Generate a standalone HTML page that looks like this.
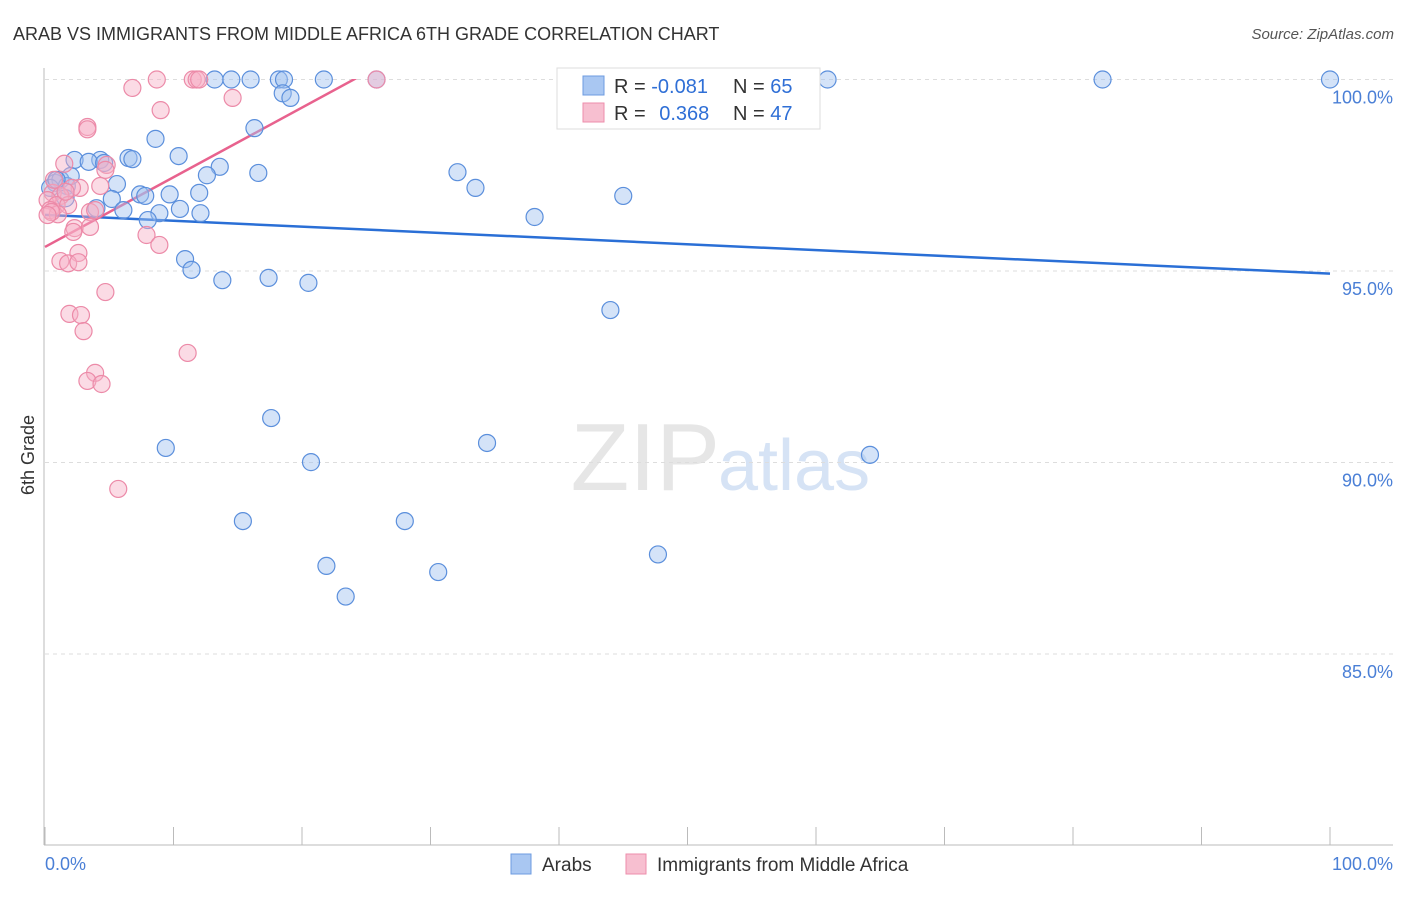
<!DOCTYPE html>
<html><head><meta charset="utf-8"><style>
body{margin:0;background:#fff;font-family:"Liberation Sans",sans-serif;}
svg text{font-family:"Liberation Sans",sans-serif;}
</style></head><body>
<svg id="chart" width="1406" height="892" xmlns="http://www.w3.org/2000/svg">
<text x="13" y="40" font-size="18" fill="#333">ARAB VS IMMIGRANTS FROM MIDDLE AFRICA 6TH GRADE CORRELATION CHART</text>
<text x="1394" y="39" font-size="15" fill="#555" text-anchor="end" font-style="italic">Source: ZipAtlas.com</text>
<text x="720" y="490" font-size="96" fill="#e6e6e6" text-anchor="end" font-family="Liberation Serif">ZIP</text>
<text x="718" y="490" font-size="72" fill="#d6e3f5">atlas</text>
<text transform="translate(34,455) rotate(-90)" font-size="18" fill="#333" text-anchor="middle">6th Grade</text>
<g id="grid"></g><g id="axes"></g>
<defs><clipPath id="plotclip"><rect x="44" y="79" width="1290" height="766"/></clipPath></defs>
<g id="trends" clip-path="url(#plotclip)"></g>
<g id="points"></g>
<g>
<rect x="557" y="68" width="263" height="61" fill="#fff" stroke="#ddd"/>
<rect x="583" y="76" width="21" height="19" fill="#a9c7f2" stroke="#6d9be0"/>
<rect x="583" y="103" width="21" height="19" fill="#f7bfd0" stroke="#ee8eab"/>
<text x="614" y="93" font-size="20" fill="#333">R = <tspan fill="#2f6fd6">-0.081</tspan></text>
<text x="733" y="93" font-size="20" fill="#333">N = <tspan fill="#2f6fd6">65</tspan></text>
<text x="614" y="120" font-size="20" fill="#333">R = <tspan fill="#2f6fd6" dx="8">0.368</tspan></text>
<text x="733" y="120" font-size="20" fill="#333">N = <tspan fill="#2f6fd6">47</tspan></text>
</g>
<g>
<rect x="511" y="854" width="20" height="20" fill="#a9c7f2" stroke="#6d9be0"/>
<text x="542" y="871" font-size="19" fill="#333">Arabs</text>
<rect x="626" y="854" width="20" height="20" fill="#f7bfd0" stroke="#ee8eab"/>
<text x="657" y="871" font-size="19" fill="#333">Immigrants from Middle Africa</text>
</g>
</svg>
<script>
const yTicks=[100,95,90,85];
const yTickLabels=["100.0%","95.0%","90.0%","85.0%"];
const xTickLabels=["0.0%","100.0%"];
const arabsX=[13.2,14.5,16.0,18.2,18.6,21.7,25.8,47.1,60.9,82.3,100,18.5,19.1,16.3,8.6,10.4,6.5,6.8,4.3,2.3,3.4,4.6,13.6,16.6,32.1,12.6,5.6,33.5,45.0,7.4,9.7,12.0,7.8,5.2,0.8,1.2,1.7,0.4,2.0,1.6,4.0,6.1,10.5,8.9,12.1,8.0,38.1,10.9,11.4,13.8,17.4,20.5,44.0,17.6,9.4,34.4,20.7,64.2,15.4,28.0,47.7,21.9,30.6,23.4,0.9];
const arabsY=[100,100,100,100,100,100,100,100,100,100,100,99.64,99.52,98.73,98.45,98.0,97.95,97.92,97.9,97.9,97.85,97.82,97.72,97.56,97.58,97.5,97.27,97.17,96.96,97.0,97.0,97.04,96.96,96.88,97.3,97.38,97.22,97.17,97.48,96.9,96.64,96.59,96.62,96.51,96.51,96.33,96.41,95.31,95.03,94.76,94.82,94.69,93.98,91.16,90.38,90.51,90.01,90.2,88.47,88.47,87.6,87.3,87.14,86.5,97.38];
const immX=[8.7,11.5,11.8,12.0,25.8,6.8,14.6,9.0,3.3,3.3,1.5,4.8,4.7,2.7,4.3,2.1,0.6,1.2,0.2,0.9,1.8,0.4,1.0,3.5,3.9,0.5,2.3,2.2,3.5,7.9,8.9,2.6,1.2,1.8,2.6,4.7,1.9,2.8,3.0,11.1,3.9,3.3,4.4,5.7,1.6,0.7,0.2];
const immY=[100,100,100,100,100,99.78,99.52,99.2,98.76,98.7,97.8,97.77,97.64,97.17,97.22,97.17,97.04,96.96,96.85,96.72,96.72,96.59,96.48,96.54,96.59,96.54,96.12,96.02,96.15,95.94,95.68,95.47,95.26,95.2,95.23,94.45,93.88,93.85,93.43,92.86,92.34,92.13,92.05,89.31,97.07,97.38,96.46];
const NS="http://www.w3.org/2000/svg";
const xs=v=>45+v*12.85;
const ys=v=>79.5+(100-v)*38.3;
function mk(tag,attrs,parent){const e=document.createElementNS(NS,tag);for(const k in attrs)e.setAttribute(k,attrs[k]);document.getElementById(parent).appendChild(e);return e;}
yTicks.forEach((t,i)=>{
 const g=mk('line',{x1:45,x2:1393,y1:ys(t),y2:ys(t),stroke:'#ddd','stroke-dasharray':'4,4'},'grid');
 
 
 const l=mk('text',{x:1393,y:ys(t)+24,'font-size':18,fill:'#4a7fd6','text-anchor':'end'},'axes');
 l.textContent=yTickLabels[i];
 
 
});
const ya=mk('line',{x1:44,x2:44,y1:68,y2:845,stroke:'#bbb'},'axes');


const xa=mk('line',{x1:44,x2:1393,y1:845,y2:845,stroke:'#bbb'},'axes');


for(let i=0;i<=10;i++){
 const t=mk('line',{x1:xs(i*10),x2:xs(i*10),y1:827,y2:845,stroke:'#bbb'},'axes');
 
 
}
[[0,'start',45],[100,'end',1393]].forEach((d,i)=>{
 const l=mk('text',{x:d[2],y:870,'font-size':18,fill:'#4a7fd6','text-anchor':d[1]},'axes');
 l.textContent=xTickLabels[i];
 
 
});
function fit(X,Y){const n=X.length;let mx=0,my=0;for(let i=0;i<n;i++){mx+=X[i];my+=Y[i];}mx/=n;my/=n;let sxy=0,sxx=0;for(let i=0;i<n;i++){sxy+=(X[i]-mx)*(Y[i]-my);sxx+=(X[i]-mx)**2;}const b=sxy/sxx;return [my-b*mx,b];}
function drawPts(X,Y,fill,stroke,name){X.forEach((x,i)=>{const c=mk('circle',{cx:xs(x),cy:ys(Y[i]),r:8.5,fill:fill,stroke:stroke,'stroke-width':1.2},'points');
 
 });}
drawPts(arabsX,arabsY,'rgba(160,194,240,0.45)','#5b8fdc','arab-point');
drawPts(immX,immY,'rgba(246,176,198,0.45)','#ec8aa8','immigrant-point');
const fa=fit(arabsX,arabsY);
const ta=mk('line',{x1:xs(0),y1:ys(fa[0]),x2:xs(100),y2:ys(fa[0]+fa[1]*100),stroke:'#2a6fd6','stroke-width':2.5},'trends');


const fi=fit(immX,immY);
const ti=mk('line',{x1:xs(0),y1:ys(fi[0]),x2:xs(100),y2:ys(fi[0]+fi[1]*100),stroke:'#e8628e','stroke-width':2.5},'trends');


</script>
</body></html>
